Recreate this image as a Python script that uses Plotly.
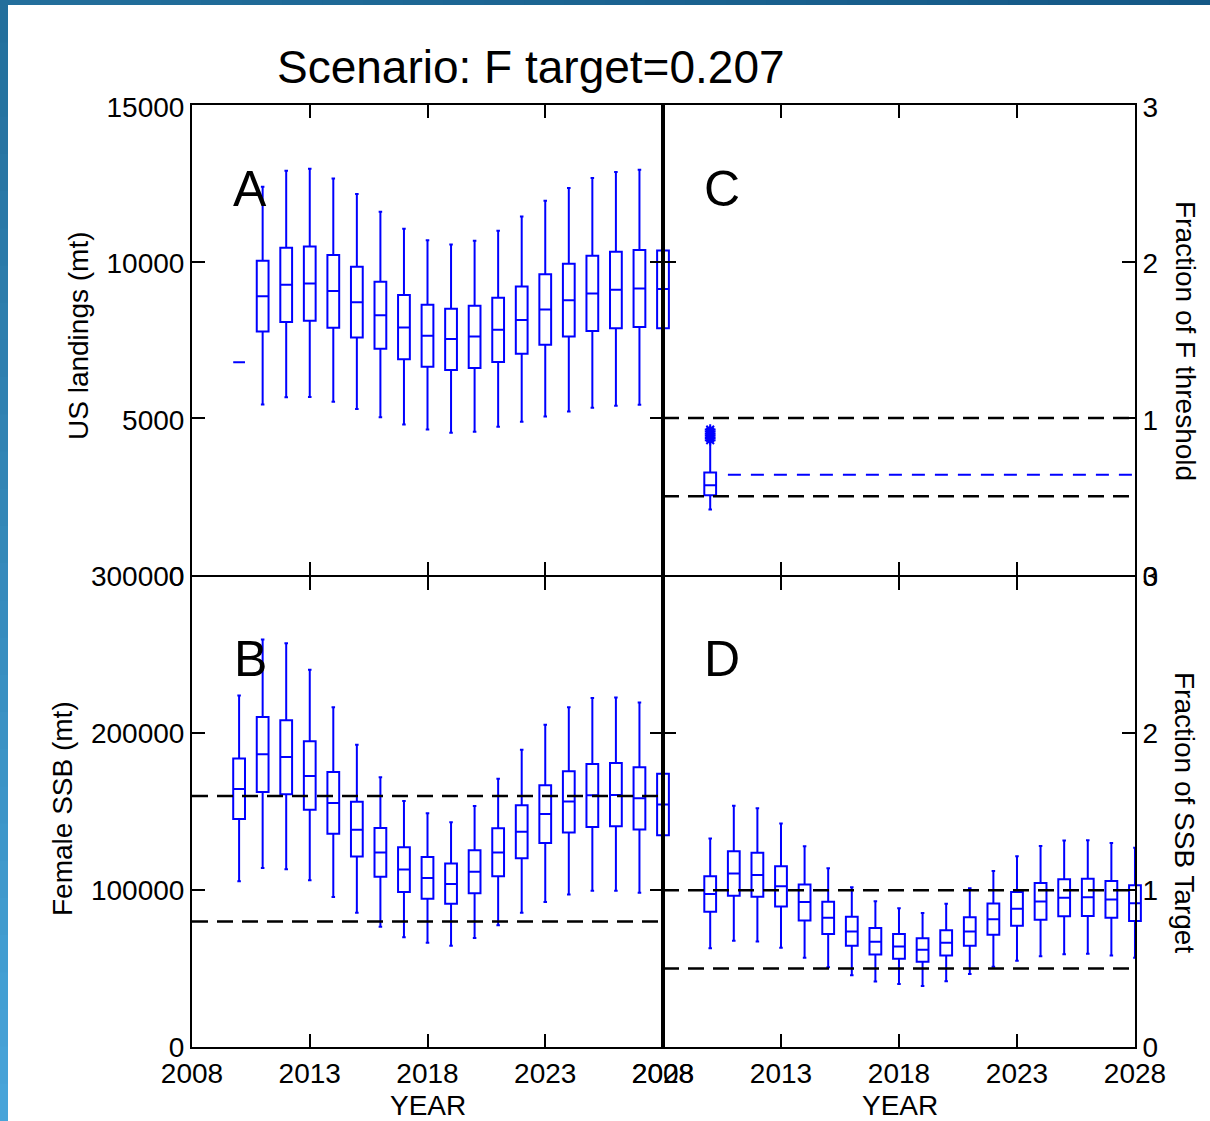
import plotly.graph_objects as go

# ---------------- data ----------------
years = [2010, 2011, 2012, 2013, 2014, 2015, 2016, 2017, 2018, 2019,
         2020, 2021, 2022, 2023, 2024, 2025, 2026, 2027, 2028]

# Panel A: US landings (mt)
land_low = [6780, 5430, 5660, 5670, 5520, 5290, 5020, 4790, 4630, 4530,
            4560, 4720, 4880, 5050, 5210, 5330, 5390, 5420, 5380]
land_q1 = [6780, 7760, 8070, 8110, 7880, 7570, 7210, 6880, 6640, 6530,
           6600, 6790, 7050, 7340, 7600, 7780, 7870, 7910, 7870]
land_med = [6780, 8890, 9260, 9300, 9060, 8700, 8280, 7890, 7630, 7520,
            7600, 7820, 8130, 8470, 8760, 8980, 9100, 9140, 9120]
land_q3 = [6780, 10020, 10440, 10480, 10210, 9830, 9350, 8930, 8620, 8490,
           8590, 8840, 9200, 9590, 9930, 10180, 10310, 10370, 10350]
land_high = [6780, 12390, 12900, 12960, 12650, 12160, 11590, 11050, 10680, 10540,
             10660, 10980, 11440, 11940, 12350, 12670, 12860, 12930, 12900]

# Panel B: Female SSB (mt)
ssb_low = [105700, 114200, 113400, 106400, 95700, 85600, 76600, 70000, 66500, 64500,
           69500, 77700, 85600, 92400, 97300, 99600, 99600, 98300, 95700]
ssb_q1 = [145400, 162600, 161100, 151200, 135900, 121500, 108500, 98900, 94500, 91300,
          98100, 108900, 120400, 130100, 136800, 140300, 140800, 138700, 135000]
ssb_med = [164500, 186600, 184900, 172800, 155600, 138600, 124000, 113200, 107800, 104000,
           111700, 124000, 137200, 148600, 156500, 160500, 160700, 158600, 154600]
ssb_q3 = [183900, 210400, 208300, 194900, 175400, 156300, 139700, 127400, 121200, 117000,
          125500, 139500, 154100, 166900, 175800, 180500, 181100, 178300, 174300]
ssb_high = [224200, 259900, 257500, 240600, 216600, 192800, 172000, 156900, 149000, 143300,
            153700, 171100, 189600, 205500, 216600, 222500, 222900, 219700, 214000]
ssb_ref_levels = [160000, 80000]

# Panel C: Fraction of F threshold
f_year = [2010]
f_low = [0.415]
f_q1 = [0.506]
f_med = [0.570]
f_q3 = [0.651]
f_high = [0.850]
f_outliers = [0.858, 0.872, 0.886, 0.900, 0.914, 0.926]
f_ref_levels = [1.0, 0.5]
f_median_line_x = [2010.75, 2028]
f_median_line_y = [0.638, 0.638]

# Panel D: Fraction of SSB target
fs_low = [0.629, 0.677, 0.673, 0.633, 0.569, 0.508, 0.457, 0.418, 0.401, 0.389,
          0.420, 0.465, 0.512, 0.550, 0.578, 0.592, 0.594, 0.584, 0.569]
fs_q1 = [0.862, 0.964, 0.958, 0.896, 0.807, 0.720, 0.645, 0.590, 0.562, 0.544,
         0.584, 0.645, 0.715, 0.773, 0.811, 0.834, 0.836, 0.824, 0.803]
fs_med = [0.976, 1.106, 1.096, 1.025, 0.924, 0.824, 0.737, 0.671, 0.641, 0.620,
          0.665, 0.737, 0.815, 0.881, 0.928, 0.951, 0.955, 0.941, 0.917]
fs_q3 = [1.089, 1.248, 1.238, 1.153, 1.036, 0.926, 0.830, 0.758, 0.720, 0.694,
         0.745, 0.828, 0.915, 0.989, 1.045, 1.070, 1.072, 1.059, 1.032]
fs_high = [1.329, 1.539, 1.522, 1.425, 1.280, 1.140, 1.019, 0.930, 0.885, 0.854,
           0.913, 1.013, 1.123, 1.217, 1.282, 1.317, 1.318, 1.301, 1.270]
fs_ref_levels = [1.0, 0.5]

x_range = [2008, 2028]
x_ticks = [2008, 2013, 2018, 2023, 2028]
land_range = [0, 15000]
ssb_range = [0, 300000]
frac_range = [0, 3]
land_ticks = [0, 5000, 10000, 15000]
ssb_ticks = [0, 100000, 200000, 300000]
frac_ticks = [0, 1, 2, 3]

# ---------------- layout helpers ----------------
W, H = 1210, 1121
def fx(p):
    return p / W
def fy(p):
    return 1 - p / H

L0, L1, R0, R1 = 192, 663, 663, 1135
T0, MID, B1 = 105, 575.5, 1047
EXT = 16  # px of extra drawing room so edge boxes are not cut at the frame
ppy = (L1 - L0) / (x_range[1] - x_range[0])
ext_years = EXT / ppy

FONT = "Liberation Sans, Arial, sans-serif"
BLUE = "#0000ff"

box_style = dict(line=dict(color=BLUE, width=2), fillcolor="rgba(0,0,0,0)",
                 width=0.5, whiskerwidth=0.3, boxpoints=False, showlegend=False,
                 hoverinfo="skip")
dash_black = dict(color="black", width=2.5, dash="16px,9px")

fig = go.Figure()

# --- data layers (hidden axes x/y .. x4/y4) ---
# A
fig.add_trace(go.Box(x=years, q1=land_q1, median=land_med, q3=land_q3,
                     lowerfence=land_low, upperfence=land_high,
                     xaxis="x", yaxis="y", **box_style))
# B
for lvl in ssb_ref_levels:
    fig.add_trace(go.Scatter(x=x_range, y=[lvl, lvl], mode="lines", line=dash_black,
                             xaxis="x2", yaxis="y2", showlegend=False, hoverinfo="skip"))
fig.add_trace(go.Box(x=years, q1=ssb_q1, median=ssb_med, q3=ssb_q3,
                     lowerfence=ssb_low, upperfence=ssb_high,
                     xaxis="x2", yaxis="y2", **box_style))
# C
for lvl in f_ref_levels:
    fig.add_trace(go.Scatter(x=x_range, y=[lvl, lvl], mode="lines", line=dash_black,
                             xaxis="x3", yaxis="y3", showlegend=False, hoverinfo="skip"))
fig.add_trace(go.Scatter(x=f_median_line_x, y=f_median_line_y, mode="lines",
                         line=dict(color=BLUE, width=2, dash="13px,10px"),
                         xaxis="x3", yaxis="y3", showlegend=False, hoverinfo="skip"))
fig.add_trace(go.Box(x=f_year, q1=f_q1, median=f_med, q3=f_q3,
                     lowerfence=f_low, upperfence=f_high,
                     xaxis="x3", yaxis="y3", **box_style))
fig.add_trace(go.Scatter(x=f_year * len(f_outliers), y=f_outliers, mode="markers",
                         marker=dict(symbol="asterisk-open", size=9, color=BLUE,
                                     line=dict(color=BLUE, width=2)),
                         xaxis="x3", yaxis="y3", showlegend=False, hoverinfo="skip"))
# D
for lvl in fs_ref_levels:
    fig.add_trace(go.Scatter(x=x_range, y=[lvl, lvl], mode="lines", line=dash_black,
                             xaxis="x4", yaxis="y4", showlegend=False, hoverinfo="skip"))
fig.add_trace(go.Box(x=years, q1=fs_q1, median=fs_med, q3=fs_q3,
                     lowerfence=fs_low, upperfence=fs_high,
                     xaxis="x4", yaxis="y4", **box_style))

# --- empty traces that register the visible frame subplots (drawn above data) ---
for xa, ya in [("x5", "y5"), ("x6", "y6"), ("x7", "y7"), ("x8", "y8")]:
    fig.add_trace(go.Scatter(x=[], y=[], mode="lines", xaxis=xa, yaxis=ya,
                             showlegend=False, hoverinfo="skip"))

axis_common = dict(showline=True, linecolor="black", linewidth=2, mirror="ticks",
                   ticks="inside", ticklen=13, tickwidth=2, tickcolor="black",
                   showgrid=False, zeroline=False, automargin=False,
                   tickfont=dict(family=FONT, size=28, color="black"))

def frame_x(domain, anchor, labels):
    d = dict(axis_common)
    d.update(domain=domain, anchor=anchor, range=x_range, tickmode="array",
             tickvals=x_ticks, ticktext=[str(v) for v in x_ticks],
             showticklabels=labels)
    return d

def frame_y(domain, anchor, rng, ticks, side, shift=0):
    d = dict(axis_common)
    d.update(domain=domain, anchor=anchor, range=rng, tickmode="array",
             tickvals=ticks, ticktext=[str(v) for v in ticks], side=side,
             ticklabelshift=shift)
    return d

def data_x(domain, anchor):
    return dict(domain=domain, anchor=anchor, range=[x_range[0], x_range[1] + ext_years],
                visible=False, showgrid=False, zeroline=False, automargin=False)

def data_y(domain, anchor, rng):
    return dict(domain=domain, anchor=anchor, range=rng,
                visible=False, showgrid=False, zeroline=False, automargin=False)

# the shared middle border: shift each panel by 1px so the two frame lines coincide
top_dom = [fy(MID - 1), fy(T0)]
bot_dom = [fy(B1), fy(MID + 1)]
left_dom = [fx(L0), fx(L1)]
right_dom = [fx(R0), fx(R1)]
left_ext = [fx(L0), fx(L1 + EXT)]
right_ext = [fx(R0), fx(R1 + EXT)]

fig.update_layout(
    template="none",
    width=W, height=H, autosize=False,
    margin=dict(l=0, r=0, t=0, b=0, pad=0, autoexpand=False),
    paper_bgcolor="white", plot_bgcolor="rgba(0,0,0,0)",
    font=dict(family=FONT, color="black"),
    showlegend=False,
    # hidden data axes
    xaxis=data_x(left_ext, "y"), yaxis=data_y(top_dom, "x", land_range),
    xaxis2=data_x(left_ext, "y2"), yaxis2=data_y(bot_dom, "x2", ssb_range),
    xaxis3=data_x(right_ext, "y3"), yaxis3=data_y(top_dom, "x3", frac_range),
    xaxis4=data_x(right_ext, "y4"), yaxis4=data_y(bot_dom, "x4", frac_range),
    # visible frame axes (drawn on top of the data)
    xaxis5=frame_x(left_dom, "y5", False),
    yaxis5=frame_y(top_dom, "x5", land_range, land_ticks, "left", 2),
    xaxis6=frame_x(left_dom, "y6", True),
    yaxis6=frame_y(bot_dom, "x6", ssb_range, ssb_ticks, "left"),
    xaxis7=frame_x(right_dom, "y7", False),
    yaxis7=frame_y(top_dom, "x7", frac_range, frac_ticks, "right", 2),
    xaxis8=frame_x(right_dom, "y8", True),
    yaxis8=frame_y(bot_dom, "x8", frac_range, frac_ticks, "right"),
)

def ann(text, px, py, size, angle=0):
    fig.add_annotation(text=text, x=fx(px), y=fy(py), xref="paper", yref="paper",
                       showarrow=False, textangle=angle, xanchor="center", yanchor="middle",
                       font=dict(family=FONT, size=size, color="black"))

ann("Scenario: F target=0.207", 531, 67, 46)
ann("A", 250, 189, 50)
ann("B", 250, 659, 50)
ann("C", 722, 189, 50)
ann("D", 722, 659, 50)
ann("US landings (mt)", 78, 336, 28, -90)
ann("Female SSB (mt)", 62, 809, 28, -90)
ann("Fraction of F threshold", 1185, 341, 28, 90)
ann("Fraction of SSB Target", 1185, 812, 28, 90)
ann("YEAR", 428, 1105, 28)
ann("YEAR", 900, 1105, 28)

# slide-style border (top and left bars with gradient)
def lerp(c1, c2, t):
    return "rgb(%d,%d,%d)" % tuple(round(a + (b - a) * t) for a, b in zip(c1, c2))

n = 30
seg_h = (H - 5) / n
seg_w = W / n
for i in range(n):
    t = i / (n - 1)
    fig.add_shape(type="rect", xref="paper", yref="paper", layer="above",
                  x0=0, x1=fx(8), y0=fy(5 + seg_h * (i + 1) + 1), y1=fy(5 + seg_h * i),
                  line=dict(width=0), fillcolor=lerp((35, 111, 156), (71, 164, 217), t))
for i in range(n):
    t = i / (n - 1)
    fig.add_shape(type="rect", xref="paper", yref="paper", layer="above",
                  x0=fx(seg_w * i), x1=fx(seg_w * (i + 1) + 1), y0=fy(5), y1=1,
                  line=dict(width=0), fillcolor=lerp((35, 111, 156), (20, 88, 134), t))

fig.write_html(
    "out.html",
    config={"displayModeBar": False, "responsive": False},
    post_script="document.body.style.margin='0';document.body.style.padding='0';"
                "document.body.style.overflow='hidden';",
)
